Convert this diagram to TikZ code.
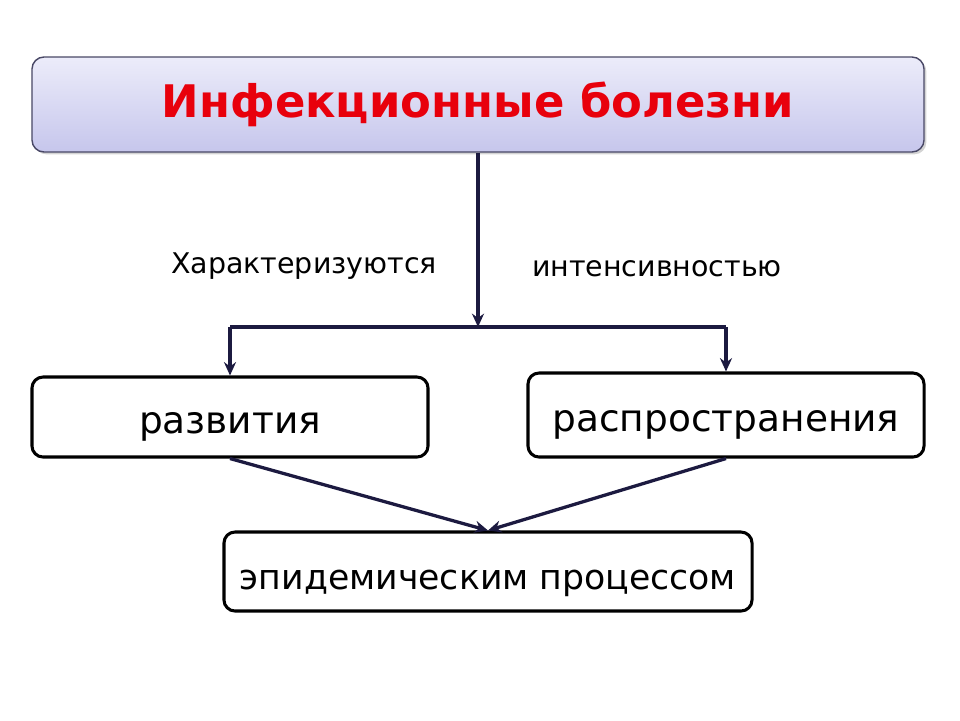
\documentclass[tikz,border=0pt]{standalone}
\usepackage{fontspec}
\setmainfont{DejaVu Sans}
\usetikzlibrary{arrows.meta, positioning, shadows}
\definecolor{linenavy}{RGB}{28, 26, 64}
\definecolor{titlered}{RGB}{232, 0, 12}
\definecolor{lavtop}{RGB}{236, 236, 250}
\definecolor{lavbot}{RGB}{198, 198, 236}

\begin{document}
\begin{tikzpicture}[
  x=0.03cm, y=-0.03cm,
  every node/.style={font=\fontsize{24.3}{28}\selectfont},
  titlebox/.style={
    draw=linenavy!80, line width=1.2pt, rounded corners=0.36cm,
    top color=lavtop, bottom color=lavbot,
    drop shadow={shadow xshift=2pt, shadow yshift=-2pt, opacity=0.35},
    minimum width=26.76cm, minimum height=2.85cm,
    font=\fontsize{38.3}{44}\selectfont\bfseries, text=titlered
  },
  box/.style={
    draw=black, line width=2.6pt, rounded corners=0.33cm, fill=white,
    minimum width=11.88cm, minimum height=2.4cm,
    text height=31pt, text depth=2pt,
    font=\fontsize{32}{36}\selectfont
  },
  arrow/.style={-{Stealth[length=4mm, width=3.6mm]}, line width=2.8pt, color=linenavy},
  link/.style={line width=2.8pt, color=linenavy}
]
  \useasboundingbox (0,0) rectangle (960,720);

  % Блоки
  \node[titlebox] (bolezni) at (478,104.5) {Инфекционные болезни};
  \node[box] (razvitie) at (230,417) {развития};
  \node[box, minimum height=2.52cm] (rasprostr) at (726,415) {распространения};
  \node[box, minimum width=15.84cm, minimum height=2.37cm,
        text height=33pt, text depth=1.6pt,
        font=\fontsize{29.6}{34}\selectfont] (process) at (488,571.5) {эпидемическим процессом};

  % Подписи
  \node (harakter) at (304,266) {Характеризуются};
  \node (intens) at (657,269) {интенсивностью};

  % Соединения
  \coordinate (razvilka) at (478,327);
  \draw[arrow] (bolezni.south) -- (razvilka);
  \draw[link] (razvitie.north |- razvilka) -- (rasprostr.north |- razvilka);
  \draw[arrow] (razvitie.north |- razvilka) -- (razvitie.north);
  \draw[arrow] (rasprostr.north |- razvilka) -- (rasprostr.north);
  \draw[arrow] (razvitie.south) -- (process.north);
  \draw[arrow] (rasprostr.south) -- (process.north);

\end{tikzpicture}
\end{document}
